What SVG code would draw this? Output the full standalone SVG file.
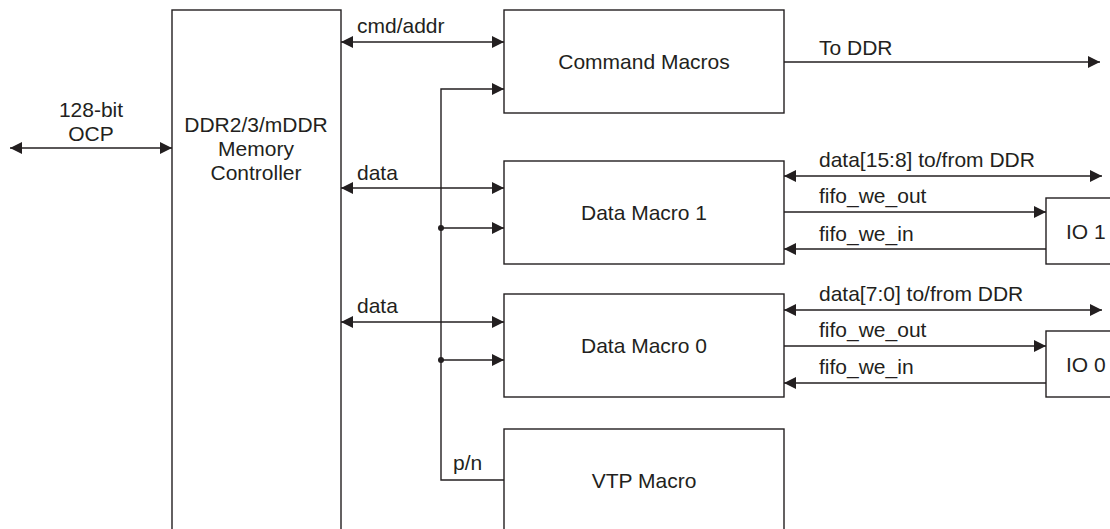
<svg xmlns="http://www.w3.org/2000/svg" width="1110" height="529" viewBox="0 0 1110 529">
<style>
.box{fill:#fff;stroke:#231f20;stroke-width:1.4}
.ln{fill:none;stroke:#231f20;stroke-width:1.4}
.a{marker-end:url(#ah)}
.b{marker-end:url(#ah);marker-start:url(#ah)}
text{font-family:"Liberation Sans",Arial,sans-serif;font-size:21px;fill:#231f20}
.c{text-anchor:middle}
</style>
<defs>
<marker id="ah" markerUnits="userSpaceOnUse" markerWidth="13" markerHeight="12" refX="12" refY="6" orient="auto-start-reverse" viewBox="0 0 13 12">
<path d="M0,0 L12,6 L0,12 z" fill="#231f20"/>
</marker>
</defs>
<g id="controller">
<rect class="box" x="172" y="10" width="169" height="540"/>
<text class="c" x="256" y="132">DDR2/3/mDDR</text>
<text class="c" x="256" y="156">Memory</text>
<text class="c" x="256" y="180">Controller</text>
</g>
<g id="command-macros">
<rect class="box" x="504" y="10" width="280" height="103"/>
<text class="c" x="644" y="69">Command Macros</text>
</g>
<g id="data-macro-1">
<rect class="box" x="504" y="161" width="280" height="103"/>
<text class="c" x="644" y="220">Data Macro 1</text>
</g>
<g id="data-macro-0">
<rect class="box" x="504" y="294" width="280" height="103"/>
<text class="c" x="644" y="353">Data Macro 0</text>
</g>
<g id="vtp-macro">
<rect class="box" x="504" y="429" width="280" height="120"/>
<text class="c" x="644" y="488">VTP Macro</text>
</g>
<g id="io-1">
<rect class="box" x="1046" y="198" width="80" height="66"/>
<text x="1066" y="239">IO 1</text>
</g>
<g id="io-0">
<rect class="box" x="1046" y="331" width="80" height="66"/>
<text x="1066" y="372">IO 0</text>
</g>
<g id="connectors">
<line class="ln b" x1="10" y1="148" x2="172" y2="148"/>
<line class="ln b" x1="341" y1="42" x2="504" y2="42"/>
<line class="ln b" x1="341" y1="188" x2="504" y2="188"/>
<line class="ln b" x1="341" y1="322" x2="504" y2="322"/>
<path class="ln a" d="M504,480 H441 V89 H504"/>
<line class="ln a" x1="441" y1="228" x2="504" y2="228"/>
<line class="ln a" x1="441" y1="360" x2="504" y2="360"/>
<circle cx="441" cy="228" r="3" fill="#231f20"/>
<circle cx="441" cy="360" r="3" fill="#231f20"/>
<line class="ln a" x1="784" y1="62" x2="1100" y2="62"/>
<line class="ln b" x1="784" y1="176" x2="1102" y2="176"/>
<line class="ln a" x1="784" y1="212" x2="1046" y2="212"/>
<line class="ln a" x1="1046" y1="249" x2="784" y2="249"/>
<line class="ln b" x1="784" y1="310" x2="1102" y2="310"/>
<line class="ln a" x1="784" y1="346" x2="1046" y2="346"/>
<line class="ln a" x1="1046" y1="383" x2="784" y2="383"/>
<text class="c" x="91" y="117">128-bit</text>
<text class="c" x="91" y="141">OCP</text>
<text x="357" y="33">cmd/addr</text>
<text x="357" y="180">data</text>
<text x="357" y="313">data</text>
<text x="453" y="470">p/n</text>
<text x="819" y="55">To DDR</text>
<text x="819" y="167">data[15:8] to/from DDR</text>
<text x="819" y="203">fifo_we_out</text>
<text x="819" y="241">fifo_we_in</text>
<text x="819" y="301">data[7:0] to/from DDR</text>
<text x="819" y="337">fifo_we_out</text>
<text x="819" y="374">fifo_we_in</text>
</g>
</svg>
